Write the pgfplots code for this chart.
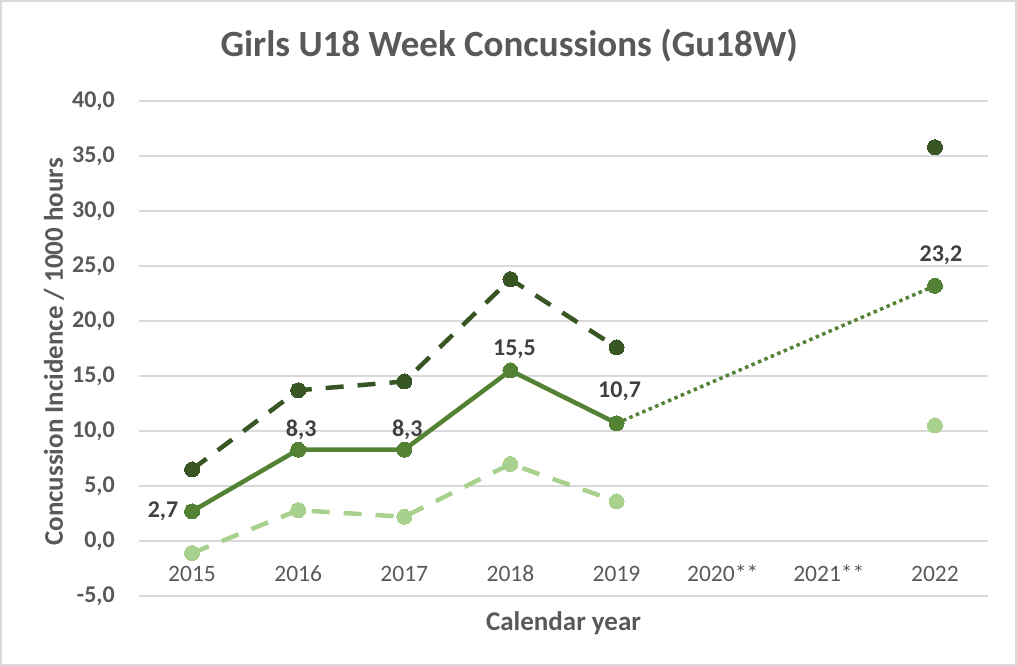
\documentclass[border=0pt]{standalone}
\usepackage{fontspec}
\setmainfont{Carlito}
\usepackage{pgfplots}
\pgfplotsset{compat=1.18}
\definecolor{mainG}{HTML}{548235}
\definecolor{darkG}{HTML}{375623}
\definecolor{lightG}{HTML}{A9D18E}
\definecolor{txt}{HTML}{595959}
\definecolor{lbl}{HTML}{404040}
\definecolor{gridc}{HTML}{D9D9D9}
\pgfplotsset{
  lab/.style 2 args={draw=none, mark=none, point meta=y,
    nodes near coords={\pgfmathprintnumber[fixed,fixed zerofill,precision=1,use comma,assume math mode=true]{\pgfplotspointmeta}},
    every node near coord/.style={font=\bfseries\fontsize{24}{28}\selectfont, text=lbl, inner sep=0pt, anchor=base, xshift=#1, yshift=#2}},
}
\begin{document}
\begin{tikzpicture}[x=1pt,y=1pt]
\path[use as bounding box] (0,0) rectangle (1017,666);
\draw[gridc, line width=1.5pt] (1,1) rectangle (1016,665);
\begin{axis}[
  at={(139pt,70pt)}, anchor=south west,
  scale only axis, width=849pt, height=495pt,
  xmin=-0.5, xmax=7.5, ymin=-5, ymax=40,
  xtick={0,...,7},
  xticklabels={2015,2016,2017,2018,2019,2020**,2021**,2022},
  ytick={-5,0,...,40},
  yticklabel={\pgfmathprintnumber[fixed,fixed zerofill,precision=1,use comma,assume math mode=true]{\tick}},
  axis line style={draw=none}, major tick length=0pt,
  ymajorgrids, grid style={gridc, line width=1.5pt},
  xticklabel style={font=\fontsize{23.5}{27}\selectfont, text=txt, anchor=base, yshift=14.5pt, inner sep=0pt},
  yticklabel style={font=\bfseries\fontsize{24}{28}\selectfont, text=txt, anchor=east, inner sep=0pt, xshift=-24pt},
  title={Girls U18 Week Concussions (Gu18W)},
  title style={font=\bfseries\fontsize{37}{42}\selectfont, text=txt, at={(axis description cs:0.436,1.0768)}, anchor=base},
  xlabel={Calendar year},
  xlabel style={font=\bfseries\fontsize{27}{32}\selectfont, text=txt, at={(axis description cs:0.5,-0.0687)}, anchor=base},
  ylabel={Concussion Incidence / 1000 hours},
  ylabel style={font=\bfseries\fontsize{27}{32}\selectfont, text=txt, at={(axis description cs:-0.1001,0.493)}, anchor=center, rotate=0},
  clip=false,
  every axis plot/.append style={mark size=7.5pt},
]
% lower bound
\addplot[lightG, line width=4.5pt, dash pattern=on 18pt off 14pt, mark=*, mark options={solid, line width=0pt, draw=lightG, fill=lightG}]
  coordinates {(0,-1.1) (1,2.8) (2,2.2) (3,7.0) (4,3.6)};
\addplot[only marks, mark=*, mark options={line width=0pt, draw=lightG, fill=lightG}]
  coordinates {(7,10.5)};
% upper bound
\addplot[darkG, line width=4.5pt, dash pattern=on 18pt off 14pt, mark=*, mark options={solid, line width=0pt, draw=darkG, fill=darkG}]
  coordinates {(0,6.5) (1,13.7) (2,14.5) (3,23.8) (4,17.6)};
\addplot[only marks, mark=*, mark options={line width=0pt, draw=darkG, fill=darkG}]
  coordinates {(7,35.8)};
% dotted connection
\addplot[mainG, line width=3.5pt, dash pattern=on 3.5pt off 3.5pt, mark=none]
  coordinates {(4,10.7) (7,23.2)};
% main incidence
\addplot[mainG, line width=4.5pt, mark=*, mark options={solid, line width=0pt, draw=mainG, fill=mainG}]
  coordinates {(0,2.7) (1,8.3) (2,8.3) (3,15.5) (4,10.7)};
\addplot[only marks, mark=*, mark options={line width=0pt, draw=mainG, fill=mainG}]
  coordinates {(7,23.2)};
% data labels
\addplot[lab={3pt}{13pt}] coordinates {(1,8.3) (2,8.3)};
\addplot[lab={4pt}{15pt}] coordinates {(3,15.5)};
\addplot[lab={3pt}{26pt}] coordinates {(4,10.7)};
\addplot[lab={6pt}{24pt}] coordinates {(7,23.2)};
\addplot[lab={-29pt}{-6pt}] coordinates {(0,2.7)};
\end{axis}
\end{tikzpicture}
\end{document}
